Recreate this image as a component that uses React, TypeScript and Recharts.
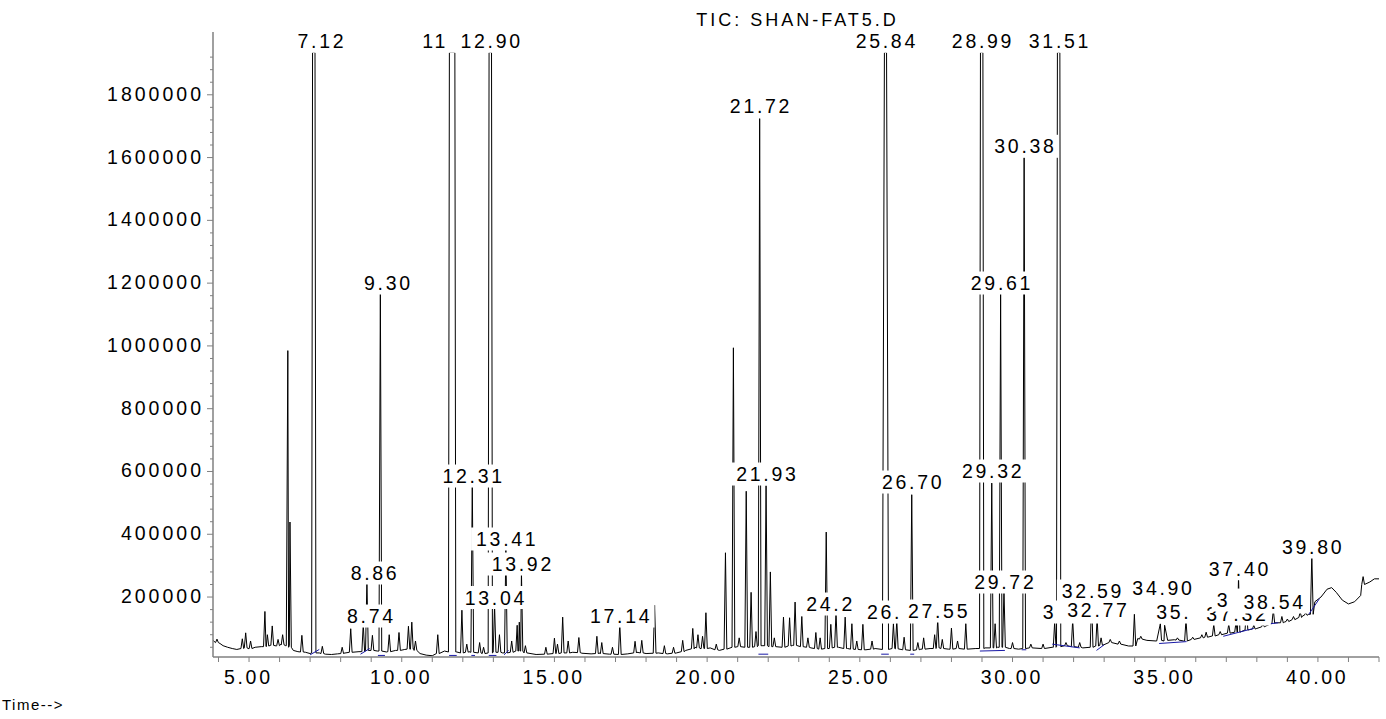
import React from "react"
import { ComposedChart, Line, Scatter, XAxis, YAxis } from "recharts"

// TIC: SHAN-FAT5.D — abundance vs retention time (min)

// baseline / noise floor of the trace
const baseTimes = [
  3.82, 3.9, 4.05, 4.15, 4.3, 4.45, 4.6, 4.75, 5.0, 5.2, 5.4, 5.7, 5.9, 6.05, 6.2, 6.45, 6.6, 6.85, 7.0, 7.3,
  7.5, 7.7, 7.9, 8.1, 8.3, 8.6, 8.9, 9.2, 9.5, 9.8, 10.1, 10.4, 10.6, 10.8, 11.0, 11.2, 11.4, 11.8, 12.0, 12.2,
  12.5, 12.7, 13.0, 13.3, 13.6, 13.8, 14.1, 14.4, 14.7, 15.0, 15.3, 15.6, 15.9, 16.2, 16.5, 16.8, 17.1, 17.4,
  17.7, 18.0, 18.4, 18.7, 19.0, 19.3, 19.6, 19.8, 20.1, 20.4, 20.6, 21.0, 21.4, 21.8, 22.2, 22.5, 22.8, 23.1,
  23.4, 23.7, 24.0, 24.3, 24.6, 24.9, 25.2, 25.5, 25.8, 26.1, 26.4, 26.7, 27.0, 27.3, 27.6, 27.9, 28.2, 28.5,
  28.8, 29.1, 29.5, 29.9, 30.2, 30.6, 31.0, 31.3, 31.7, 32.0, 32.3, 32.6, 32.9, 33.2, 33.5, 33.8, 34.1, 34.4,
  34.7, 35.0, 35.3, 35.6, 35.9, 36.2, 36.5, 36.8, 37.1, 37.4, 37.7, 38.0, 38.3, 38.6, 38.9, 39.2, 39.5, 39.7,
  39.9, 40.1, 40.3, 40.45, 40.6, 40.8, 41.0, 41.2, 41.4, 41.5, 41.7, 41.85, 42.0,
]
const baseSignal = [
  62000, 55000, 52000, 45000, 40000, 36000, 33000, 38000, 35000, 40000, 42000, 46000, 44000, 50000, 45000,
  30000, 26000, 24000, 20000, 22000, 18000, 17000, 19000, 21000, 24000, 26000, 32000, 28000, 25000, 30000,
  33000, 35000, 20000, 15000, 13000, 20000, 28000, 25000, 22000, 26000, 22000, 20000, 24000, 22000, 26000,
  30000, 22000, 17000, 16000, 20000, 22000, 24000, 21000, 19000, 22000, 18000, 17000, 19000, 24000, 20000,
  22000, 19000, 22000, 30000, 40000, 35000, 38000, 30000, 35000, 42000, 40000, 45000, 42000, 40000, 46000,
  42000, 38000, 34000, 36000, 40000, 36000, 33000, 32000, 36000, 33000, 36000, 32000, 30000, 34000, 36000,
  38000, 34000, 36000, 34000, 36000, 38000, 40000, 36000, 34000, 38000, 36000, 40000, 45000, 42000, 38000,
  40000, 46000, 55000, 50000, 44000, 68000, 62000, 60000, 62000, 64000, 60000, 66000, 70000, 75000, 80000,
  85000, 88000, 95000, 100000, 108000, 118000, 120000, 128000, 140000, 145000, 185000, 200000, 225000,
  230000, 215000, 190000, 178000, 185000, 205000, 245000, 248000, 258000, 258000,
]

// resolved peaks: apex time, apex signal, local baseline
const peakTimes = [
  3.95, 4.78, 4.89, 5.05, 5.52, 5.6, 5.76, 5.95, 6.1, 6.27, 6.34, 6.73, 7.4, 8.05, 8.33, 8.74, 8.86, 9.04, 9.3,
  9.59, 9.91, 10.22, 10.33, 10.45, 11.18, 11.97, 12.13, 12.31, 12.55, 12.68, 13.04, 13.2, 13.41, 13.6, 13.78,
  13.85, 13.92, 14.05, 14.72, 15.0, 15.1, 15.27, 15.45, 15.8, 16.39, 16.55, 16.9, 17.14, 17.64, 17.86, 18.28,
  18.6, 18.9, 19.2, 19.53, 19.7, 19.85, 19.96, 20.3, 20.6, 20.86, 21.05, 21.28, 21.44, 21.6, 21.72, 21.93,
  22.07, 22.2, 22.5, 22.7, 22.88, 23.1, 23.3, 23.56, 23.7, 23.9, 24.05, 24.22, 24.52, 24.74, 24.9, 25.1, 25.4,
  26.1, 26.21, 26.45, 26.7, 26.9, 27.09, 27.45, 27.55, 27.7, 28.0, 28.2, 28.47, 29.32, 29.43, 29.61, 29.72,
  30.0, 30.38, 30.6, 31.0, 31.38, 31.75, 31.97, 32.2, 32.59, 32.77, 32.9, 33.2, 33.5, 33.99, 34.2, 34.84,
  34.98, 35.4, 35.68, 35.9, 36.2, 36.34, 36.59, 36.8, 37.08, 37.32, 37.4, 37.66, 37.9, 38.2, 38.54, 38.82,
  39.0, 39.2, 39.42, 39.6, 39.8, 41.48,
]
const peakHeights = [
  66000, 67000, 86000, 60000, 154000, 80000, 108000, 65000, 80000, 985000, 439000, 78000, 43000, 40000,
  99000, 114500, 251600, 78000, 1180000, 80000, 87000, 107000, 120000, 60000, 80000, 158000, 50000, 560500,
  55000, 40000, 173500, 80000, 359900, 60000, 110000, 120000, 280200, 45000, 40000, 69000, 50000, 136000,
  60000, 71000, 75000, 55000, 40000, 114500, 59000, 62000, 174000, 45000, 40000, 62000, 100000, 80000, 75000,
  150000, 50000, 341000, 994000, 70000, 537000, 215000, 90000, 1724000, 555000, 280000, 70000, 136000,
  134000, 184000, 138000, 70000, 87000, 70000, 407000, 113000, 152800, 136000, 115000, 60000, 113000, 60000,
  115000, 127300, 72000, 526000, 55000, 70000, 80000, 130500, 65000, 101000, 60000, 115000, 563000, 115000,
  1170000, 222900, 55000, 1601000, 50000, 50000, 120000, 55000, 127300, 55000, 194200, 133700, 70000, 65000,
  60000, 145000, 75000, 115000, 110000, 70000, 127300, 72000, 80000, 88000, 113000, 90000, 113000, 121000,
  265200, 165400, 110000, 115000, 159100, 138000, 130000, 138000, 152000, 150000, 334400, 265000,
]
const peakBases = [
  55000, 36000, 38000, 36000, 42000, 44000, 46000, 45000, 48000, 45000, 40000, 25000, 20000, 20000, 24000,
  26000, 30000, 30000, 28000, 26000, 30000, 34000, 34000, 30000, 20000, 22000, 24000, 24000, 22000, 20000,
  24000, 24000, 22000, 24000, 28000, 28000, 28000, 22000, 18000, 20000, 20000, 22000, 22000, 23000, 20000,
  20000, 18000, 17000, 22000, 22000, 21000, 20000, 21000, 26000, 35000, 38000, 36000, 36000, 32000, 34000,
  40000, 42000, 40000, 40000, 42000, 45000, 45000, 42000, 42000, 40000, 44000, 46000, 42000, 40000, 36000,
  34000, 36000, 38000, 40000, 36000, 34000, 33000, 32000, 34000, 36000, 35000, 32000, 30000, 32000, 34000,
  36000, 38000, 36000, 34000, 36000, 34000, 38000, 38000, 40000, 40000, 36000, 36000, 38000, 36000, 40000,
  45000, 42000, 40000, 40000, 44000, 46000, 55000, 50000, 44000, 66000, 60000, 62000, 63000, 60000, 65000,
  70000, 72000, 76000, 80000, 85000, 88000, 88000, 95000, 98000, 105000, 116000, 118000, 122000, 128000,
  135000, 142000, 145000, 240000,
]
// peak half-width at base (min), default 0.045
const peakHalfWidth: Record<number, number> = { 6.27: 0.05, 34.84: 0.12, 34.98: 0.1 }

// off-scale peaks (flat top at the detector ceiling)
const clipTimes = [7.12, 11.65, 12.9, 25.84, 28.99, 31.51]
const clipBases = [22000, 25000, 22000, 33000, 36000, 42000]
const clipHalfTop = [0.04, 0.09, 0.04, 0.035, 0.04, 0.04]
const clipHalfBase = [0.07, 0.12, 0.07, 0.1, 0.07, 0.07]
const CLIP_LEVEL = 1935000

// integration baselines (blue)
const intStart = [7.0, 8.65, 9.22, 11.55, 12.28, 12.85, 13.35, 21.68, 25.7, 26.65, 28.93, 30.3, 31.3, 32.75, 34.8, 36.9, 38.45, 39.7]
const intStartV = [16000, 18000, 14000, 14000, 14000, 14000, 16000, 18000, 18000, 18000, 28000, 32000, 50000, 30000, 52000, 75000, 115000, 145000]
const intEnd = [7.3, 8.95, 9.45, 11.8, 12.4, 13.1, 13.5, 22.0, 25.95, 26.78, 29.75, 30.45, 32.2, 33.0, 35.7, 37.9, 38.7, 40.05]
const intEndV = [33000, 36000, 14000, 14000, 14000, 14000, 30000, 18000, 18000, 18000, 30000, 32000, 38000, 48000, 58000, 100000, 118000, 195000]

// retention time labels: shown text (as visible, some cut off by neighbours), time, label centre (signal units)
const labelTexts = [
  "7.12", "8.74", "8.86", "9.30", "11", "12.31", "12.90", "13.04", "13.41", "13.92", "17.14", "21.72", "21.93",
  "24.2", "25.84", "26.", "26.70", "27.55", "28.99", "29.32", "29.61", "29.72", "30.38", "31.51", "3",
  "32.59", "32.77", "34.90", "35.", "37.32", "37.40", "3", "38.54", "39.80",
]
const labelTimes = [
  7.12, 8.74, 8.86, 9.3, 11.65, 12.31, 12.9, 13.04, 13.41, 13.92, 17.14, 21.72, 21.93, 24.22, 25.84, 26.21,
  26.7, 27.55, 28.99, 29.32, 29.61, 29.72, 30.38, 31.51, 31.97, 32.59, 32.77, 34.9, 35.68, 37.32, 37.4, 37.66,
  38.54, 39.8,
]
const labelHeights = [
  1970400, 139500, 276600, 1200400, 1970400, 585500, 1970400, 198500, 384900, 305200, 139500, 1764300, 591900,
  177800, 1970400, 152300, 566400, 155500, 1970400, 601500, 1200400, 247900, 1635900, 1970400, 152300, 219200,
  158700, 228700, 152300, 146000, 290200, 190400, 184100, 359400,
]

const xTicks = [
  4, 5, 6, 7, 8, 9, 10, 11, 12, 13, 14, 15, 16, 17, 18, 19, 20, 21, 22, 23, 24, 25, 26, 27, 28, 29, 30, 31, 32,
  33, 34, 35, 36, 37, 38, 39, 40, 41, 42,
]
const yTicks = [
  40000, 80000, 120000, 160000, 200000, 240000, 280000, 320000, 360000, 400000, 440000, 480000, 520000, 560000,
  600000, 640000, 680000, 720000, 760000, 800000, 840000, 880000, 920000, 960000, 1000000, 1040000, 1080000,
  1120000, 1160000, 1200000, 1240000, 1280000, 1320000, 1360000, 1400000, 1440000, 1480000, 1520000, 1560000,
  1600000, 1640000, 1680000, 1720000, 1760000, 1800000, 1840000, 1880000, 1920000,
]

const WIDTH = 1386
const HEIGHT = 719
const PLOT_LEFT = 213
const PLOT_BOTTOM = 657
const FONT = '"Liberation Sans", Arial, sans-serif'
const AXIS_GREY = "#808080"
const FS = 19.5
const LS = 2.7

type Pt = { t: number; v: number }

function buildTrace(): Pt[] {
  const pts: Pt[] = []
  const spans: [number, number][] = []
  peakTimes.forEach((t, i) => {
    const w = peakHalfWidth[t] ?? 0.045
    spans.push([t - w, t + w])
    pts.push({ t: t - w, v: peakBases[i] }, { t, v: peakHeights[i] }, { t: t + w, v: peakBases[i] })
  })
  clipTimes.forEach((t, i) => {
    const wb = clipHalfBase[i]
    const wt = clipHalfTop[i]
    spans.push([t - wb, t + wb])
    pts.push(
      { t: t - wb, v: clipBases[i] },
      { t: t - wt, v: CLIP_LEVEL },
      { t: t + wt, v: CLIP_LEVEL },
      { t: t + wb, v: clipBases[i] },
    )
  })
  baseTimes.forEach((t, i) => {
    if (!spans.some(([a, b]) => t >= a && t <= b)) pts.push({ t, v: baseSignal[i] })
  })
  return pts.sort((a, b) => a.t - b.t)
}

const trace = buildTrace()

const integration: { t: number; b: number | null }[] = []
intStart.forEach((t, i) => {
  integration.push({ t, b: intStartV[i] }, { t: intEnd[i], b: intEndV[i] }, { t: intEnd[i] + 0.001, b: null })
})

const labels = labelTexts.map((text, i) => ({ t: labelTimes[i], v: labelHeights[i], text }))

// label is placed with its decimal point over the peak; the white box hides whatever lies behind
function PeakLabel(props: any) {
  const { cx, cy, payload } = props
  if (cx == null || cy == null) return null
  const text: string = payload.text
  const intLen = Math.floor(payload.t).toString().length
  const digit = FS * 0.556 + LS
  const dot = FS * 0.278 + LS
  const [intPart, frac] = text.split(".")
  const shownW = intPart.length * digit + (frac === undefined ? 0 : dot + frac.length * digit)
  const fullW = intLen * digit + dot + 2 * digit
  const start = cx - FS * 0.14 - intLen * digit
  return (
    <g>
      <rect x={start - 5} y={cy - 11.5} width={Math.max(shownW, fullW) - LS + 10} height={23} fill="#ffffff" />
      <text x={start} y={cy + 7} fontSize={FS} fontFamily={FONT} fill="#000" style={{ letterSpacing: LS }}>
        {text}
      </text>
    </g>
  )
}

function XTick(props: any) {
  const { payload } = props
  const x = payload.coordinate ?? props.x
  const v = payload.value
  return (
    <g>
      <line x1={x} x2={x} y1={PLOT_BOTTOM} y2={PLOT_BOTTOM + 5} stroke={AXIS_GREY} />
      {v % 5 === 0 && (
        <text x={x - 0.7} y={683.5} textAnchor="middle" fontSize={FS} fontFamily={FONT} fill="#000" style={{ letterSpacing: LS }}>
          {v.toFixed(2)}
        </text>
      )}
    </g>
  )
}

function YTick(props: any) {
  const { payload } = props
  const y = payload.coordinate ?? props.y
  const major = payload.value % 200000 === 0
  return (
    <g>
      <line x1={major ? PLOT_LEFT - 6 : PLOT_LEFT - 3} x2={PLOT_LEFT} y1={y} y2={y} stroke={AXIS_GREY} />
      {major && (
        <text x={204} y={y + 6} textAnchor="end" fontSize={FS} fontFamily={FONT} fill="#000" style={{ letterSpacing: 3 }}>
          {payload.value}
        </text>
      )}
    </g>
  )
}

export default function App() {
  return (
    <div style={{ position: "absolute", left: 0, top: 0, width: WIDTH, height: HEIGHT, background: "#fff" }}>
      <ComposedChart width={WIDTH} height={HEIGHT} margin={{ top: 32, right: 7, bottom: 0, left: 0 }}>
        <XAxis
          type="number"
          dataKey="t"
          domain={[3.82, 42.0]}
          allowDataOverflow
          ticks={xTicks}
          interval={0}
          tick={XTick}
          tickLine={false}
          axisLine={{ stroke: AXIS_GREY, strokeWidth: 1.5 }}
          height={62}
        />
        <YAxis
          type="number"
          dataKey="v"
          domain={[9000, 2000000]}
          allowDataOverflow
          ticks={yTicks}
          interval={0}
          tick={YTick}
          tickLine={false}
          axisLine={{ stroke: AXIS_GREY, strokeWidth: 1.5 }}
          width={213}
        />
        <Line
          data={trace}
          dataKey="v"
          type="linear"
          stroke="#000"
          strokeWidth={1}
          dot={false}
          activeDot={false}
          isAnimationActive={false}
        />
        <Line
          data={integration}
          dataKey="b"
          type="linear"
          stroke="#1a1aa6"
          strokeWidth={1}
          dot={false}
          activeDot={false}
          connectNulls={false}
          isAnimationActive={false}
        />
        <Scatter data={labels} dataKey="v" shape={(p: any) => <PeakLabel {...p} />} isAnimationActive={false} />
      </ComposedChart>
      <svg width={WIDTH} height={HEIGHT} style={{ position: "absolute", left: 0, top: 0, pointerEvents: "none" }}>
        <text x={797.5} y={26} textAnchor="middle" fontSize={18} fontFamily={FONT} fill="#000" style={{ letterSpacing: 3 }}>
          TIC: SHAN-FAT5.D
        </text>
        <text x={2} y={710} fontSize={15} fontFamily={FONT} fill="#000" style={{ letterSpacing: 1.5 }}>
          Time--&gt;
        </text>
      </svg>
    </div>
  )
}
